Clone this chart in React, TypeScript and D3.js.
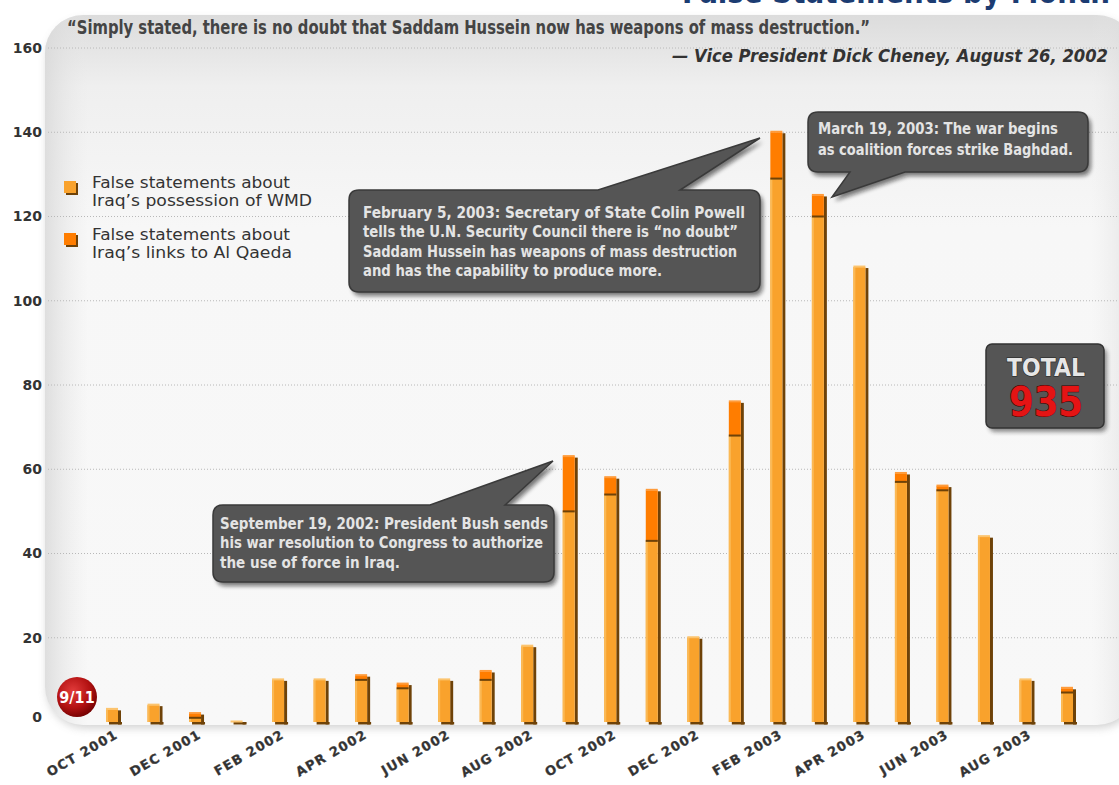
import React from "react";
import * as d3 from "d3";

const months = [
  "OCT 2001", "NOV 2001", "DEC 2001", "JAN 2002", "FEB 2002", "MAR 2002",
  "APR 2002", "MAY 2002", "JUN 2002", "JUL 2002", "AUG 2002", "SEP 2002",
  "OCT 2002", "NOV 2002", "DEC 2002", "JAN 2003", "FEB 2003", "MAR 2003",
  "APR 2003", "MAY 2003", "JUN 2003", "JUL 2003", "AUG 2003", "SEP 2003",
];
// false statements about WMD possession
const wmd = [3, 4, 1, 0, 10, 10, 10, 8, 10, 10, 18, 50, 54, 43, 20, 68, 129, 120, 108, 57, 55, 44, 10, 7];
// false statements about links to Al Qaeda
const alQaeda = [0, 0, 1, 0, 0, 0, 1, 1, 0, 2, 0, 13, 4, 12, 0, 8, 11, 5, 0, 2, 1, 0, 0, 1];
const yTicks = [0, 20, 40, 60, 80, 100, 120, 140, 160];
const totalLabel = "935";

const quote = "\u201CSimply stated, there is no doubt that Saddam Hussein now has weapons of mass destruction.\u201D";
const quoteBy = "\u2014 Vice President Dick Cheney, August 26, 2002";
const legendItems = [
  ["False statements about", "Iraq\u2019s possession of WMD"],
  ["False statements about", "Iraq\u2019s links to Al Qaeda"],
];
const powellNote = [
  "February 5, 2003: Secretary of State Colin Powell",
  "tells the U.N. Security Council there is \u201Cno doubt\u201D",
  "Saddam Hussein has weapons of mass destruction",
  "and has the capability to produce more.",
];
const warNote = ["March 19, 2003: The war begins", "as coalition forces strike Baghdad."];
const bushNote = [
  "September 19, 2002: President Bush sends",
  "his war resolution to Congress to authorize",
  "the use of force in Iraq.",
];

const W = 1119;
const H = 785;
const WMD_COLOR = "#f9a22c";
const AQ_COLOR = "#ff7d00";
const SHADE = "#6e4208";
const condensed = "'DejaVu Sans Condensed', 'Liberation Sans Narrow', 'DejaVu Sans', sans-serif";

const x = d3.scalePoint<string>().domain(months).range([113, 1068]);
const y = d3.scaleLinear().domain([0, 160]).range([722, 48]);

// rounded box with a pointer tail, tail given as [start x on edge, end x on edge, tip]
function calloutPath(bx: number, by: number, bw: number, bh: number, r: number,
  side: "top" | "bottom", t0: number, t1: number, tip: [number, number]) {
  const p = d3.path();
  p.moveTo(bx + r, by);
  if (side === "top") {
    p.lineTo(t0, by);
    p.lineTo(tip[0], tip[1]);
    p.lineTo(t1, by);
  }
  p.lineTo(bx + bw - r, by);
  p.quadraticCurveTo(bx + bw, by, bx + bw, by + r);
  p.lineTo(bx + bw, by + bh - r);
  p.quadraticCurveTo(bx + bw, by + bh, bx + bw - r, by + bh);
  if (side === "bottom") {
    p.lineTo(t1, by + bh);
    p.lineTo(tip[0], tip[1]);
    p.lineTo(t0, by + bh);
  }
  p.lineTo(bx + r, by + bh);
  p.quadraticCurveTo(bx, by + bh, bx, by + bh - r);
  p.lineTo(bx, by + r);
  p.quadraticCurveTo(bx, by, bx + r, by);
  p.closePath();
  return p.toString();
}

const Callout: React.FC<{
  d: string; lines: string[]; tx: number; ty: number; lh: number; widths: number[];
}> = ({ d, lines, tx, ty, lh, widths }) => (
  <g>
    <path d={d} transform="translate(3,4)" fill="#111" opacity={0.55} filter="url(#blur2)" />
    <path d={d} fill="#555" stroke="#3a3a3a" strokeWidth={1.5} />
    {lines.map((l, i) => (
      <text key={i} x={tx} y={ty + i * lh} fill="#e4e4e4" fontFamily={condensed}
        fontSize={15} fontWeight="bold" textLength={widths[i]} lengthAdjust="spacingAndGlyphs">{l}</text>
    ))}
  </g>
);

const Bar: React.FC<{ m: string; a: number; b: number }> = ({ m, a, b }) => {
  const cx = x(m) as number;
  const left = cx - 7;
  const w = 12;
  const y0 = y(0);
  const yA = y(a);
  const yT = y(a + b);
  return (
    <g>
      <rect x={left + 3} y={y0} width={w + 1} height={2.5} fill={SHADE} />
      <rect x={left + w} y={yT + 1} width={3} height={y0 - yT + 1.5} fill={SHADE} />
      <rect x={left} y={yA} width={w} height={y0 - yA} fill={WMD_COLOR} />
      <rect x={left} y={yA} width={2} height={y0 - yA} fill="#fbb955" />
      {b > 0 && (
        <>
          <rect x={left} y={yT} width={w} height={yA - yT} fill={AQ_COLOR} />
          <rect x={left} y={yA - 1} width={w} height={2} fill={SHADE} />
        </>
      )}
      <rect x={left} y={yT - 1.5} width={w} height={2} fill={b > 0 ? "#ff9b3a" : "#fcc46e"} />
    </g>
  );
};

const App: React.FC = () => {
  const barData = months.map((m, i) => ({ m, a: wmd[i], b: alQaeda[i] }));
  return (
    <svg width={W} height={H} viewBox={`0 0 ${W} ${H}`}
      style={{ position: "absolute", left: 0, top: 0, background: "#fff" }}>
      <defs>
        <linearGradient id="panelV" x1="0" y1="0" x2="0" y2="1">
          <stop offset="0" stopColor="#dcdcdc" />
          <stop offset="0.1" stopColor="#efefef" />
          <stop offset="0.3" stopColor="#f7f7f7" />
          <stop offset="1" stopColor="#f8f8f8" />
        </linearGradient>
        <linearGradient id="panelH" x1="0" y1="0" x2="1" y2="0">
          <stop offset="0" stopColor="#d8d8d8" stopOpacity={0.8} />
          <stop offset="0.04" stopColor="#e8e8e8" stopOpacity={0} />
          <stop offset="0.96" stopColor="#e8e8e8" stopOpacity={0} />
          <stop offset="1" stopColor="#d8d8d8" stopOpacity={0.7} />
        </linearGradient>
        <radialGradient id="ball" cx="0.4" cy="0.35" r="0.7">
          <stop offset="0" stopColor="#e23b3b" />
          <stop offset="0.6" stopColor="#b31212" />
          <stop offset="1" stopColor="#6e0000" />
        </radialGradient>
        <filter id="blur2" x="-10%" y="-10%" width="120%" height="130%">
          <feGaussianBlur stdDeviation="2" />
        </filter>
        <filter id="panelShadow" x="-5%" y="-5%" width="110%" height="115%">
          <feGaussianBlur stdDeviation="4" />
        </filter>
      </defs>

      {/* title, cut off at the top edge as in the source */}
      <text x={1110} y={3} textAnchor="end" fill="#1c3c72" fontFamily={condensed}
        fontWeight="bold" fontSize={34} textLength={428} lengthAdjust="spacingAndGlyphs">
        False Statements by Month
      </text>

      {/* panel */}
      <rect x={47} y={20} width={1090} height={708} rx={38} fill="#9a9a9a" opacity={0.45}
        filter="url(#panelShadow)" />
      <rect x={45} y={15} width={1090} height={710} rx={38} fill="url(#panelV)" />
      <rect x={45} y={15} width={1090} height={710} rx={38} fill="url(#panelH)" />

      {/* y grid + labels */}
      {yTicks.map((t) => (
        <g key={t}>
          {t > 0 && (
            <line x1={48} x2={W} y1={y(t)} y2={y(t)} stroke="#b8b8b8" strokeWidth={1}
              strokeDasharray="1 2" />
          )}
          <text x={42} y={t === 0 ? y(t) - 5 : y(t)} dy="0.35em" textAnchor="end" fill="#333"
            fontFamily="'DejaVu Sans', sans-serif" fontSize={14} fontWeight={600}>{t}</text>
        </g>
      ))}

      {/* quote */}
      <text x={67} y={34} fill="#444" fontFamily={condensed} fontSize={19} fontWeight="bold"
        textLength={803} lengthAdjust="spacingAndGlyphs">{quote}</text>
      <text x={1108} y={62} textAnchor="end" fill="#333" fontFamily={condensed} fontSize={18}
        fontStyle="italic" fontWeight="bold" textLength={436} lengthAdjust="spacingAndGlyphs">{quoteBy}</text>

      {/* legend */}
      {legendItems.map((lines, i) => (
        <g key={i} transform={`translate(0, ${i * 52})`}>
          <rect x={66} y={183} width={12} height={12} fill={SHADE} />
          <rect x={64} y={181} width={12} height={12} fill={i === 0 ? WMD_COLOR : AQ_COLOR} />
          {lines.map((l, j) => (
            <text key={j} x={92} y={188 + j * 18} fill="#333" fontFamily="'DejaVu Sans', sans-serif"
              fontSize={16} textLength={j === 0 ? 198 : (i === 0 ? 220 : 200)}
              lengthAdjust="spacingAndGlyphs">{l}</text>
          ))}
        </g>
      ))}

      {/* bars */}
      {barData.map((d) => <Bar key={d.m} m={d.m} a={d.a} b={d.b} />)}

      {/* x labels */}
      {months.map((m, i) => i % 2 === 0 && (
        <text key={m} transform={`translate(${(x(m) as number) + 6}, ${y(0) + 15}) rotate(-30)`}
          textAnchor="end" fill="#333" stroke="#444" strokeWidth={0.3}
          fontFamily="'DejaVu Sans', sans-serif" fontWeight="bold" fontSize={13}
          letterSpacing={1.2}>{m}</text>
      ))}

      {/* 9/11 marker */}
      <circle cx={77} cy={697} r={20} fill="url(#ball)" />
      <text x={77} y={697} dy="0.35em" textAnchor="middle" fill="#fff" fontFamily={condensed}
        fontWeight="bold" fontSize={16}>9/11</text>

      {/* callouts */}
      <Callout
        d={calloutPath(349, 190, 411, 102, 10, "top", 598, 680, [760, 138])}
        lines={powellNote} tx={363} ty={218} lh={19.3} widths={[382, 375, 374, 299]} />
      <Callout
        d={calloutPath(808, 112, 280, 60, 10, "bottom", 850, 905, [832, 197])}
        lines={warNote} tx={818} ty={134} lh={21} widths={[240, 255]} />
      <Callout
        d={calloutPath(213, 505, 341, 77, 10, "top", 430, 505, [553, 461])}
        lines={bushNote} tx={220} ty={529} lh={19.3} widths={[328, 323, 180]} />

      {/* total box */}
      <rect x={989} y={348} width={118} height={84} rx={6} fill="#222" opacity={0.5}
        filter="url(#blur2)" />
      <rect x={986} y={344} width={118} height={84} rx={6} fill="#555" stroke="#333" strokeWidth={1.5} />
      <text x={1046} y={376} textAnchor="middle" fill="#e6e6e6" stroke="#222" strokeWidth={1.2}
        paintOrder="stroke" fontFamily="'DejaVu Sans', sans-serif" fontWeight="bold" fontSize={25}
        textLength={78} lengthAdjust="spacingAndGlyphs">TOTAL</text>
      <text x={1046} y={416} textAnchor="middle" fill="#e41414" stroke="#300" strokeWidth={1}
        paintOrder="stroke" fontFamily="'DejaVu Sans', sans-serif" fontWeight="bold" fontSize={40}
        textLength={74} lengthAdjust="spacingAndGlyphs">{totalLabel}</text>
    </svg>
  );
};

export default App;
